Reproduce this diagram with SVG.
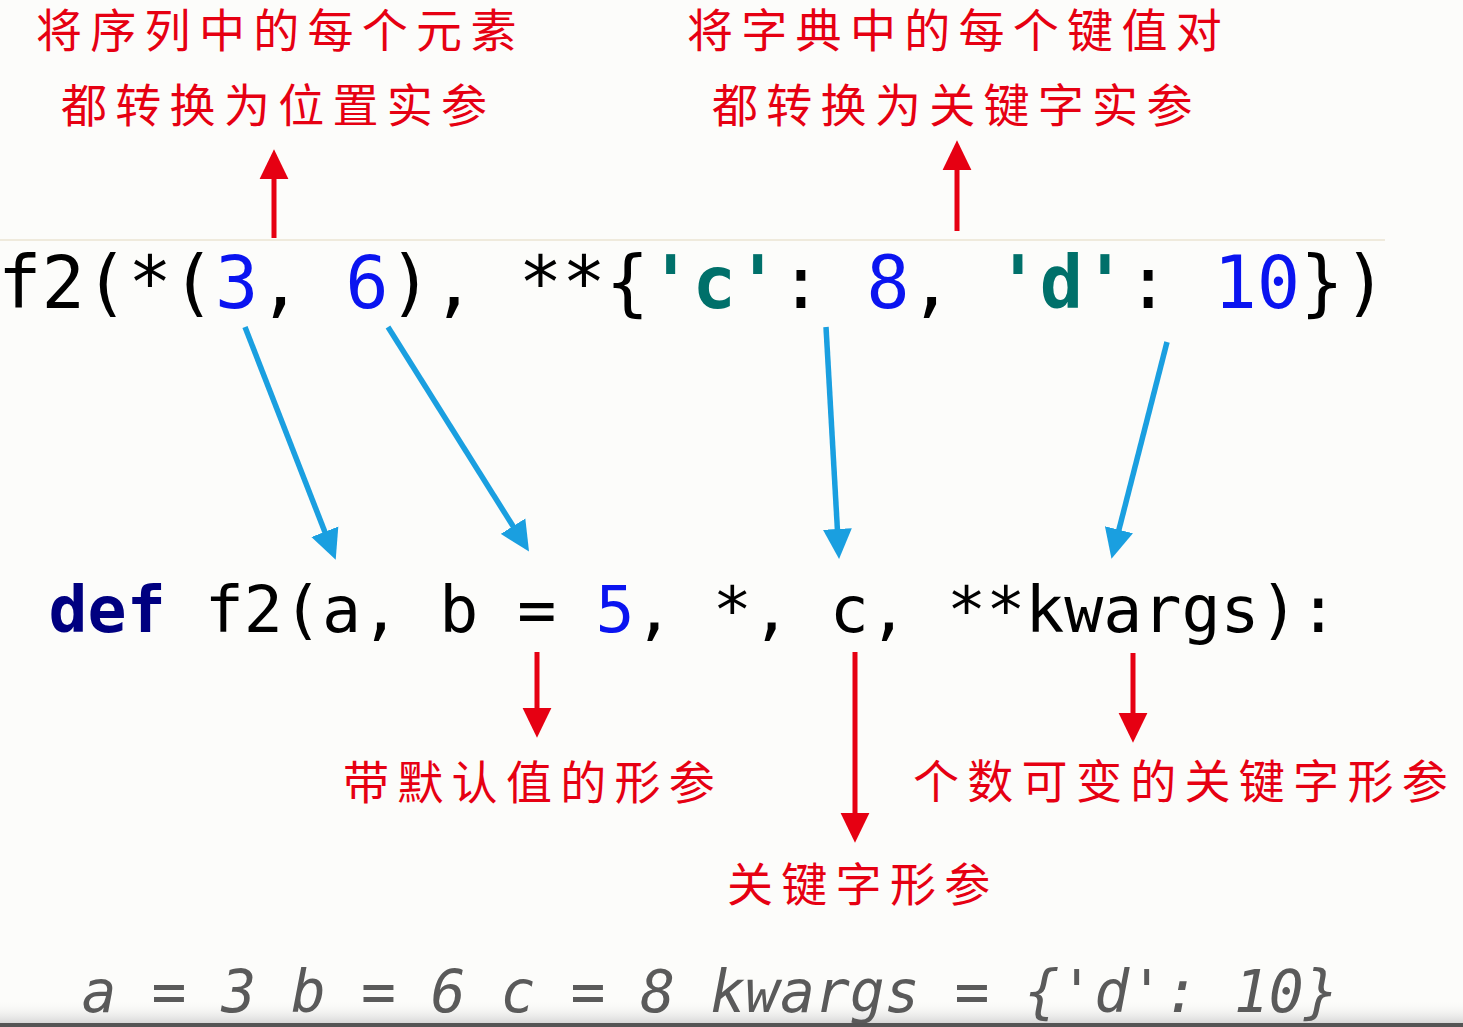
<svg xmlns="http://www.w3.org/2000/svg" width="1463" height="1027" viewBox="0 0 1463 1027">
<defs>
<style>
.cn{font-family:"Noto Sans CJK SC","Noto Sans",sans-serif;font-size:46px;fill:#e60012;letter-spacing:8.3px;font-weight:400}
.code{font-family:"DejaVu Sans Mono","Liberation Mono",monospace;}
.blk{fill:#000}
.num{fill:#0a14f0}
.str{fill:#00706a;font-weight:bold}
.kw{fill:#000080;font-weight:bold}
.blue{stroke:#1a9fe0;stroke-width:5.5;fill:none}
.red{stroke:#e60012;stroke-width:5;fill:none}
</style>
<marker id="ab" markerUnits="userSpaceOnUse" markerWidth="30" markerHeight="30" viewBox="0 0 28 27" refX="2" refY="13.5" orient="auto">
<path d="M0,0 L28,13.5 L0,27 z" fill="#1a9fe0"/>
</marker>
<marker id="ar" markerUnits="userSpaceOnUse" markerWidth="30" markerHeight="30" viewBox="0 0 28 27" refX="2" refY="13.5" orient="auto">
<path d="M0,0 L28,13.5 L0,27 z" fill="#e60012"/>
</marker>
<linearGradient id="shade" x1="0" y1="0" x2="0" y2="1">
<stop offset="0" stop-color="#fcfcfa" stop-opacity="0"/>
<stop offset="1" stop-color="#d8d8d8"/>
</linearGradient>
</defs>
<rect width="1463" height="1027" fill="#fcfcfa"/>
<line x1="0" y1="240" x2="1385" y2="240" stroke="#efeadc" stroke-width="2"/>

<g id="label-sequence">
<text class="cn" x="36" y="47">将序列中的每个元素</text>
<text class="cn" x="61" y="122">都转换为位置实参</text>
</g>
<g id="label-dict">
<text class="cn" x="687" y="47">将字典中的每个键值对</text>
<text class="cn" x="712" y="122">都转换为关键字实参</text>
</g>

<g id="call">
<text class="code" x="-2" y="308" font-size="72.1" xml:space="preserve"><tspan class="blk">f2(*(</tspan><tspan class="num">3</tspan><tspan class="blk">, </tspan><tspan class="num">6</tspan><tspan class="blk">), **{</tspan><tspan class="str">'c'</tspan><tspan class="blk">: </tspan><tspan class="num">8</tspan><tspan class="blk">, </tspan><tspan class="str">'d'</tspan><tspan class="blk">: </tspan><tspan class="num">10</tspan><tspan class="blk">})</tspan></text>
</g>

<g id="def">
<text class="code" x="48.5" y="632" font-size="64.9" xml:space="preserve"><tspan class="kw">def</tspan><tspan class="blk"> f2(a, b = </tspan><tspan class="num">5</tspan><tspan class="blk">, *, c, **kwargs):</tspan></text>
</g>

<g id="label-default">
<text class="cn" x="343" y="799">带默认值的形参</text>
</g>
<g id="label-keyword">
<text class="cn" x="727" y="901">关键字形参</text>
</g>
<g id="label-varkw">
<text class="cn" x="913" y="798">个数可变的关键字形参</text>
</g>

<g id="result">
<rect x="0" y="1000" width="1463" height="23" fill="url(#shade)"/>
<text class="code" x="81.6" y="1012" font-size="58" font-style="italic" fill="#5a5a5a" xml:space="preserve">a = 3 b = 6 c = 8 kwargs = {'d': 10}</text>
<rect x="0" y="1023" width="1463" height="4" fill="#555"/>
</g>

<g id="connectors">
<line class="red" x1="274" y1="238" x2="274" y2="177" marker-end="url(#ar)"/>
<line class="red" x1="957" y1="231" x2="957" y2="168" marker-end="url(#ar)"/>
<line class="blue" x1="245" y1="327" x2="325.6" y2="533.8" marker-end="url(#ab)"/>
<line class="blue" x1="388" y1="327" x2="514.2" y2="528" marker-end="url(#ab)"/>
<line class="blue" x1="826" y1="327" x2="837.5" y2="531.1" marker-end="url(#ab)"/>
<line class="blue" x1="1167" y1="342" x2="1118.4" y2="531.8" marker-end="url(#ab)"/>
<line class="red" x1="537" y1="652" x2="537" y2="710" marker-end="url(#ar)"/>
<line class="red" x1="855" y1="652" x2="855" y2="815" marker-end="url(#ar)"/>
<line class="red" x1="1133" y1="653" x2="1133" y2="715" marker-end="url(#ar)"/>
</g>
</svg>
